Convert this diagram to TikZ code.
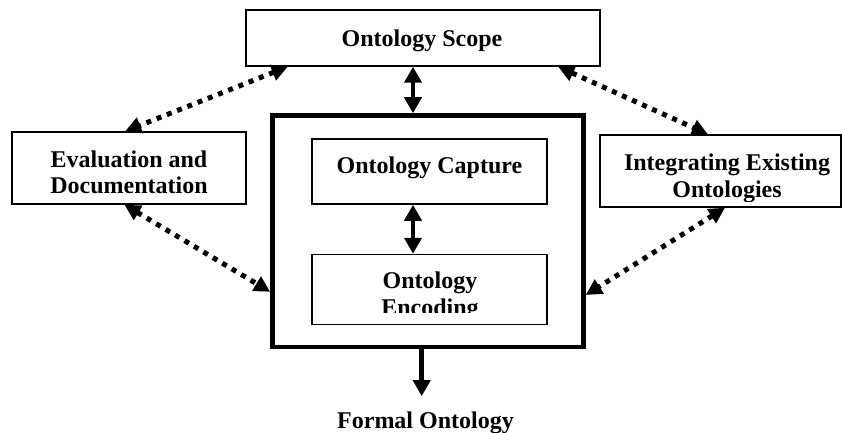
\documentclass[tikz,border=0pt]{standalone}
\usepackage{fontspec}
\setmainfont{Liberation Serif}
\usetikzlibrary{arrows.meta, positioning}

\begin{document}
\begin{tikzpicture}[x=1pt, y=-1pt,
    box/.style={draw, line width=1.5pt, inner sep=0pt},
    bigbox/.style={draw, line width=4.5pt, inner sep=0pt},
    lbl/.style={font=\fontsize{24}{26.5}\selectfont\bfseries, align=center, inner sep=0pt},
    solidarrow/.style={line width=4.5pt, {Triangle[width=17pt,length=16pt]}-{Triangle[width=17pt,length=16pt]}},
    outarrow/.style={line width=4.5pt, -{Triangle[width=17pt,length=16pt]}},
    dotarrow/.style={line width=5pt, dash pattern=on 5pt off 6pt, {Triangle[width=16pt,length=16pt]}-{Triangle[width=16pt,length=16pt]}}]
        \useasboundingbox (0,0) rectangle (842,433);
        % boxes
        \node[box, minimum width=354pt, minimum height=56pt] (scope) at (423,38) {};
        \node[box, minimum width=234pt, minimum height=72pt] (eval) at (129,168) {};
        \node[box, minimum width=241pt, minimum height=72pt] (integ) at (720.5,171) {};
        \node[bigbox, minimum width=311pt, minimum height=231.5pt] (big) at (428,231.25) {};
        \node[box, minimum width=235pt, minimum height=65pt] (capture) at (429.5,171.5) {};
        \node[box, minimum width=235pt, minimum height=70pt] (encoding) at (429.5,289.5) {};
        % texts
        \node[lbl, anchor=base] (scopetext) at (422,46.5) {Ontology Scope};
        \node[lbl, anchor=north] (evaltext) at (129,150.4) {Evaluation and\\Documentation};
        \node[lbl, anchor=base] (capturetext) at (429.5,173.5) {Ontology Capture};
        \begin{scope}
            \clip (integ.north west) rectangle ([yshift=6.5pt]integ.south east);
            \node[lbl, anchor=north] (integtext) at (727,154) {Integrating Existing\\Ontologies};
        \end{scope}
        \begin{scope}
            \clip (encoding.north west) rectangle ([yshift=12.5pt]encoding.south east);
            \node[lbl, anchor=north] (encodingtext) at (430,272) {Ontology\\Encoding};
        \end{scope}
        \node[lbl, anchor=base] (formal) at (425.5,428) {Formal Ontology};
        % arrows
        \coordinate (axis) at (413,0);
        \coordinate (outaxis) at (421.7,0);
        \draw[solidarrow] (scope.south -| axis) -- (big.north -| axis);
        \draw[solidarrow] (capture.south -| axis) -- (encoding.north -| axis);
        \draw[outarrow] (big.south -| outaxis) -- ([yshift=15pt]formal.north -| outaxis);
        \draw[dotarrow] (scope.192.8) -- (eval.96.3);
        \draw[dotarrow] (scope.348.9) -- (integ.109.1);
        \draw[dotarrow] (eval.263.7) -- (big.201.7);
        \draw[dotarrow] (integ.277.1) -- (big.338.7);
    \end{tikzpicture}
\end{document}
